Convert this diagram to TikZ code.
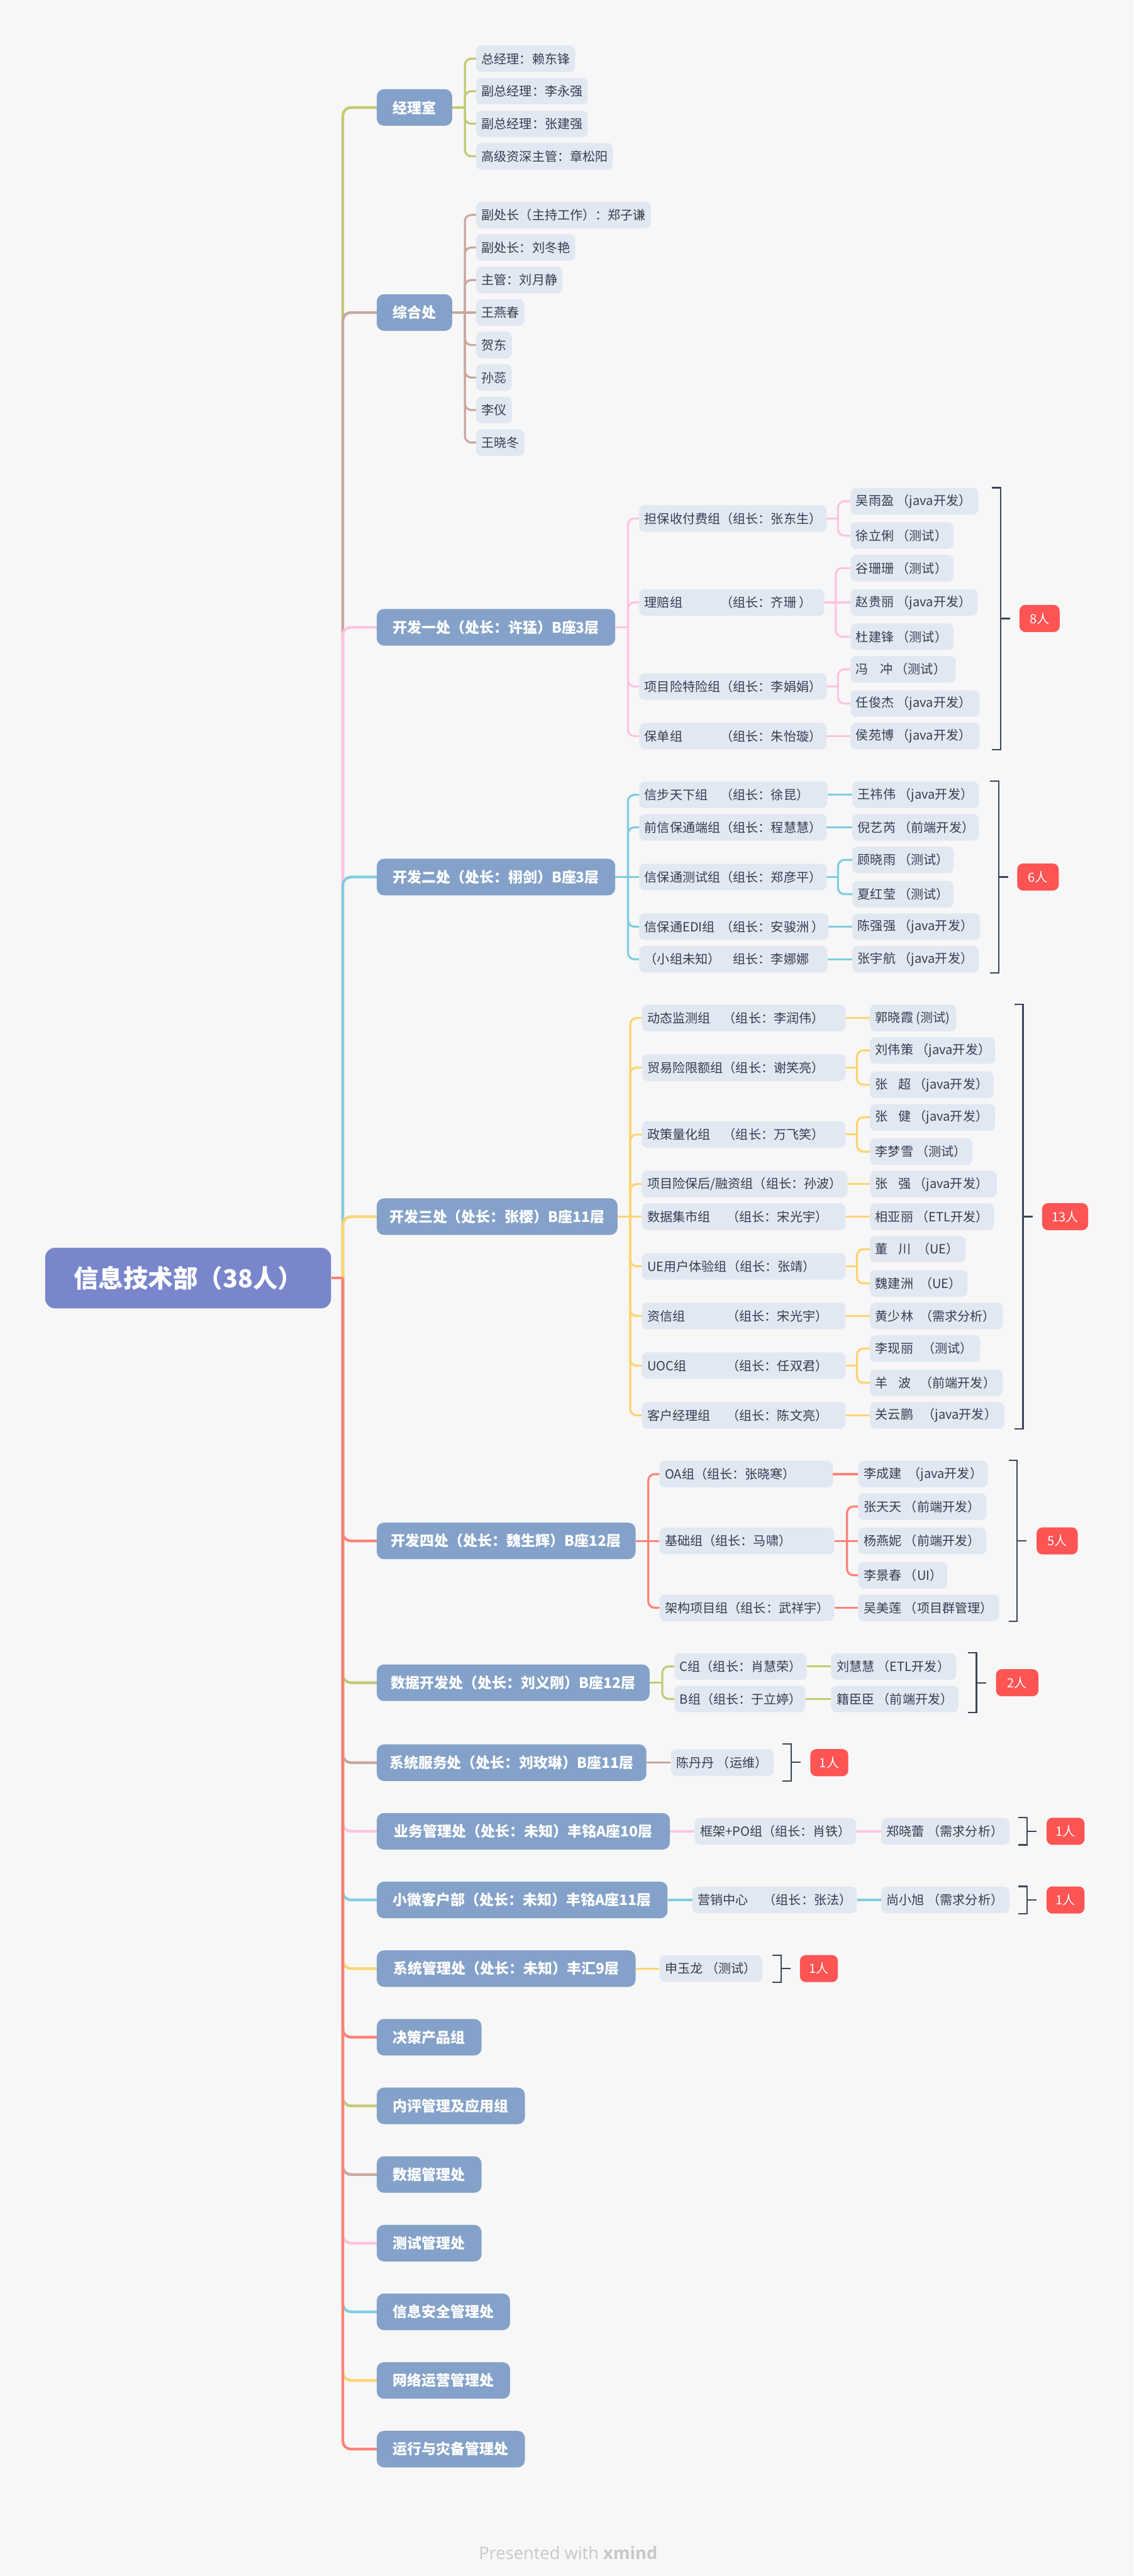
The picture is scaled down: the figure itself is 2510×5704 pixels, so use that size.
\documentclass[tikz,border=0pt]{standalone}
\usepackage{fontspec}
\setmainfont{Noto Sans CJK SC}
\newfontfamily\wmfont{Open Sans}
\definecolor{bgc}{HTML}{F7F7F7}
\definecolor{rootc}{HTML}{7986CB}
\definecolor{mainc}{HTML}{84A2C9}
\definecolor{subc}{HTML}{E2E8F1}
\definecolor{txtc}{HTML}{343E52}
\definecolor{redc}{HTML}{FF5454}
\definecolor{brkc}{HTML}{3B4559}
\definecolor{colA}{HTML}{C3CA74}
\definecolor{colB}{HTML}{C9A79F}
\definecolor{colC}{HTML}{FFC3E1}
\definecolor{colD}{HTML}{7FCDE0}
\definecolor{colE}{HTML}{FFD470}
\definecolor{colF}{HTML}{FF8277}
\definecolor{wmc}{HTML}{C8C8C8}
\newcommand\wbox[2]{\makebox[#1pt][l]{#2}}
\newcommand\pre[2]{\makebox[#1pt][l]{#2}}
\newcommand\stub[3]{\draw[sublink,#1] (#2.east) -- ++(#3,0);}
\newcommand\bend[4]{\draw[sublink,#1,rounded corners=14] (#2.east) ++(#3,0) |- (#4.west);}
\newcommand\strl[3]{\draw[sublink,#1] (#2.east) -- (#3.west);}
\newcommand\brk[4]{\draw[brk] ({#1-19},#2) -- (#1,#2) -- (#1,#3) -- ({#1-19},#3);
  \draw[brk] (#1,#4) -- ({#1+21},#4);}
\tikzset{
  rootbox/.style={fill=rootc, rounded corners=22, text=white, font=\bfseries\fontsize{55}{64}\selectfont, minimum width=633, minimum height=134, inner sep=0},
  mainbox/.style={fill=mainc, rounded corners=16, text=white, font=\bfseries\fontsize{32}{38}\selectfont, minimum height=81, inner sep=0, anchor=west},
  subbox/.style={fill=subc, rounded corners=12, text=txtc, font=\fontsize{28}{34}\selectfont, minimum height=59, inner xsep=12, inner ysep=0, anchor=west},
  badge/.style={fill=redc, rounded corners=13, text=white, font=\fontsize{28}{34}\selectfont, minimum height=60, inner sep=0, anchor=west},
  trunk/.style={line width=6},
  sublink/.style={line width=4.5},
  brk/.style={draw=brkc, line width=3},
}
\begin{document}
\begin{tikzpicture}[x=1pt,y=-1pt]
\useasboundingbox (0,0) rectangle (2510,5704);
\fill[bgc] (0,0) rectangle (2510,5704);

% root
\node[rootbox] (root) at (416.5,2830) {信息技术部（38人）};
\coordinate (T) at (759,2830);

% main topics
\node[mainbox, minimum width=167] (m1) at (834,238) {经理室};
\node[mainbox, minimum width=167] (m2) at (834,692) {综合处};
\node[mainbox, minimum width=528] (m3) at (834,1389) {开发一处（处长：许猛）B座3层};
\node[mainbox, minimum width=528] (m4) at (834,1942) {开发二处（处长：栩剑）B座3层};
\node[mainbox, minimum width=533] (m5) at (834,2694) {开发三处（处长：张樱）B座11层};
\node[mainbox, minimum width=573] (m6) at (834,3412) {开发四处（处长：魏生辉）B座12层};
\node[mainbox, minimum width=604] (m7) at (834,3726) {数据开发处（处长：刘义刚）B座12层};
\node[mainbox, minimum width=597] (m8) at (834,3903) {系统服务处（处长：刘玫琳）B座11层};
\node[mainbox, minimum width=649] (m9) at (834,4055) {业务管理处（处长：未知）丰铭A座10层};
\node[mainbox, minimum width=644] (m10) at (834,4207) {小微客户部（处长：未知）丰铭A座11层};
\node[mainbox, minimum width=573] (m11) at (834,4359) {系统管理处（处长：未知）丰汇9层};
\node[mainbox, minimum width=232] (m12) at (834,4511) {决策产品组};
\node[mainbox, minimum width=328] (m13) at (834,4663) {内评管理及应用组};
\node[mainbox, minimum width=232] (m14) at (834,4815) {数据管理处};
\node[mainbox, minimum width=232] (m15) at (834,4967) {测试管理处};
\node[mainbox, minimum width=295] (m16) at (834,5119) {信息安全管理处};
\node[mainbox, minimum width=295] (m17) at (834,5271) {网络运营管理处};
\node[mainbox, minimum width=328] (m18) at (834,5423) {运行与灾备管理处};

% root branches
\foreach \m/\c in {m1/colA,m2/colB,m3/colC,m4/colD,m5/colE,m6/colF,m7/colA,m8/colB,m9/colC,m10/colD,m11/colE,m12/colF,m13/colA,m14/colB,m15/colC,m16/colD,m17/colE,m18/colF}{
  \draw[trunk,\c] (root.east) -- (T);
  \draw[trunk,\c,rounded corners=18] (T) |- (\m.west);
}

% ---- branch 1
\node[subbox] (a1) at (1054,130) {\wbox{195}{总经理：赖东锋}};
\node[subbox] (a2) at (1054,202) {\wbox{223}{副总经理：李永强}};
\node[subbox] (a3) at (1054,274) {\wbox{223}{副总经理：张建强}};
\node[subbox] (a4) at (1054,346) {\wbox{279}{高级资深主管：章松阳}};
\stub{colA}{m1}{28}
\foreach \ch in {a1,a2,a3,a4}{\bend{colA}{m1}{28}{\ch}}

% ---- branch 2
\node[subbox] (b1) at (1054,476) {\wbox{363}{副处长（主持工作）：郑子谦}};
\node[subbox] (b2) at (1054,548) {\wbox{195}{副处长：刘冬艳}};
\node[subbox] (b3) at (1054,620) {\wbox{167}{主管：刘月静}};
\node[subbox] (b4) at (1054,692) {\wbox{83}{王燕春}};
\node[subbox] (b5) at (1054,764) {\wbox{55}{贺东}};
\node[subbox] (b6) at (1054,836) {\wbox{55}{孙蕊}};
\node[subbox] (b7) at (1054,908) {\wbox{55}{李仪}};
\node[subbox] (b8) at (1054,980) {\wbox{83}{王晓冬}};
\stub{colB}{m2}{28}
\foreach \ch in {b1,b2,b3,b5,b6,b7,b8}{\bend{colB}{m2}{28}{\ch}}
\strl{colB}{m2}{b4}

% ---- branch 3
\node[subbox] (g31) at (1415,1148) {\wbox{391}{担保收付费组（组长：张东生）}};
\node[subbox] (g32) at (1415,1334) {\wbox{386}{\pre{168}{理赔组}（组长：齐珊 ）}};
\node[subbox] (g33) at (1415,1520) {\wbox{391}{项目险特险组（组长：李娟娟）}};
\node[subbox] (g34) at (1415,1630) {\wbox{391}{\pre{168}{保单组}（组长：朱怡璇）}};
\node[subbox] (p311) at (1883,1110) {\wbox{259}{吴雨盈 （java开发）}};
\node[subbox] (p312) at (1883,1186) {\wbox{204}{徐立俐 （测试）}};
\node[subbox] (p321) at (1883,1258) {\wbox{204}{谷珊珊 （测试）}};
\node[subbox] (p322) at (1883,1334) {\wbox{257}{赵贵丽 （java开发）}};
\node[subbox] (p323) at (1883,1410) {\wbox{204}{杜建锋 （测试）}};
\node[subbox] (p331) at (1883,1482) {\wbox{209}{冯\hspace{0.9em}冲 （测试）}};
\node[subbox] (p332) at (1883,1558) {\wbox{262}{任俊杰 （java开发）}};
\node[subbox] (p341) at (1883,1630) {\wbox{262}{侯苑博 （java开发）}};
\stub{colC}{m3}{28}
\foreach \ch in {g31,g32,g33,g34}{\bend{colC}{m3}{28}{\ch}}
\stub{colC}{g31}{25}
\bend{colC}{g31}{25}{p311}\bend{colC}{g31}{25}{p312}
\stub{colC}{g32}{25}
\bend{colC}{g32}{25}{p321}\strl{colC}{g32}{p322}\bend{colC}{g32}{25}{p323}
\stub{colC}{g33}{25}
\bend{colC}{g33}{25}{p331}\bend{colC}{g33}{25}{p332}
\strl{colC}{g34}{p341}
\brk{2215}{1080}{1659.5}{1369.5}
\node[badge, minimum width=89] (n3) at (2257,1369.5) {8人};

% ---- branch 4
\node[subbox] (g41) at (1415,1760) {\wbox{393}{\pre{168}{信步天下组}（组长：徐昆）}};
\node[subbox] (g42) at (1415,1832) {\wbox{391}{前信保通端组（组长：程慧慧）}};
\node[subbox] (g43) at (1415,1942) {\wbox{391}{信保通测试组（组长：郑彦平）}};
\node[subbox] (g44) at (1415,2052) {\wbox{395}{\pre{168}{信保通EDI组}（组长：安骏洲 ）}};
\node[subbox] (g45) at (1415,2124) {\wbox{393}{\pre{196}{（小组未知）}组长：李娜娜}};
\node[subbox] (p41) at (1887,1760) {\wbox{256}{王祎伟 （java开发）}};
\node[subbox] (p42) at (1887,1832) {\wbox{256}{倪艺芮 （前端开发）}};
\node[subbox] (p431) at (1887,1904) {\wbox{200}{顾晓雨 （测试）}};
\node[subbox] (p432) at (1887,1980) {\wbox{200}{夏红莹 （测试）}};
\node[subbox] (p44) at (1887,2052) {\wbox{259}{陈强强 （java开发）}};
\node[subbox] (p45) at (1887,2124) {\wbox{256}{张宇航 （java开发）}};
\stub{colD}{m4}{28}
\foreach \ch in {g41,g42,g44,g45}{\bend{colD}{m4}{28}{\ch}}
\strl{colD}{m4}{g43}
\strl{colD}{g41}{p41}
\strl{colD}{g42}{p42}
\stub{colD}{g43}{25}
\bend{colD}{g43}{25}{p431}\bend{colD}{g43}{25}{p432}
\strl{colD}{g44}{p44}
\strl{colD}{g45}{p45}
\brk{2211}{1730}{2154}{1942}
\node[badge, minimum width=92] (n4) at (2252,1942) {6人};

% ---- branch 5
\node[subbox] (g51) at (1421,2254) {\wbox{427}{\pre{168}{动态监测组}（组长：李润伟）}};
\node[subbox] (g52) at (1421,2364) {\wbox{427}{贸易险限额组（组长：谢笑亮）}};
\node[subbox] (g53) at (1421,2512) {\wbox{427}{\pre{168}{政策量化组}（组长：万飞笑）}};
\node[subbox] (g54) at (1421,2622) {\wbox{431}{项目险保后/融资组（组长：孙波）}};
\node[subbox] (g55) at (1421,2694) {\wbox{427}{\pre{176}{数据集市组}（组长：宋光宇）}};
\node[subbox] (g56) at (1421,2804) {\wbox{427}{UE用户体验组（组长：张靖）}};
\node[subbox] (g57) at (1421,2914) {\wbox{427}{\pre{176}{资信组}（组长：宋光宇）}};
\node[subbox] (g58) at (1421,3024) {\wbox{427}{\pre{176}{UOC组}（组长：任双君）}};
\node[subbox] (g59) at (1421,3134) {\wbox{427}{\pre{176}{客户经理组}（组长：陈文亮）}};
\node[subbox] (p51) at (1926,2254) {\wbox{167}{郭晓霞 (测试)}};
\node[subbox] (p521) at (1926,2326) {\wbox{253}{刘伟策 （java开发）}};
\node[subbox] (p522) at (1926,2402) {\wbox{250}{张\hspace{0.8em}超 （java开发）}};
\node[subbox] (p531) at (1926,2474) {\wbox{253}{张\hspace{0.8em}健 （java开发）}};
\node[subbox] (p532) at (1926,2550) {\wbox{203}{李梦雪 （测试）}};
\node[subbox] (p54) at (1926,2622) {\wbox{257}{张\hspace{0.8em}强 （java开发）}};
\node[subbox] (p55) at (1926,2694) {\wbox{251}{相亚丽 （ETL开发）}};
\node[subbox] (p561) at (1926,2766) {\wbox{188}{董\hspace{0.8em}川\hspace{14pt}（UE）}};
\node[subbox] (p562) at (1926,2842) {\wbox{192}{魏建洲\hspace{14pt}（UE）}};
\node[subbox] (p57) at (1926,2914) {\wbox{270}{黄少林\hspace{14pt}（需求分析）}};
\node[subbox] (p581) at (1926,2986) {\wbox{220}{李现丽\hspace{20pt}（测试）}};
\node[subbox] (p582) at (1926,3062) {\wbox{270}{羊\hspace{0.8em}波\hspace{20pt}（前端开发）}};
\node[subbox] (p59) at (1926,3134) {\wbox{274}{关云鹏\hspace{20pt}（java开发）}};
\stub{colE}{m5}{28}
\foreach \ch in {g51,g52,g53,g54,g56,g57,g58,g59}{\bend{colE}{m5}{28}{\ch}}
\strl{colE}{m5}{g55}
\strl{colE}{g51}{p51}
\stub{colE}{g52}{25}
\bend{colE}{g52}{25}{p521}\bend{colE}{g52}{25}{p522}
\stub{colE}{g53}{25}
\bend{colE}{g53}{25}{p531}\bend{colE}{g53}{25}{p532}
\strl{colE}{g54}{p54}
\strl{colE}{g55}{p55}
\stub{colE}{g56}{25}
\bend{colE}{g56}{25}{p561}\bend{colE}{g56}{25}{p562}
\strl{colE}{g57}{p57}
\stub{colE}{g58}{25}
\bend{colE}{g58}{25}{p581}\bend{colE}{g58}{25}{p582}
\strl{colE}{g59}{p59}
\brk{2265}{2224}{3164}{2694}
\node[badge, minimum width=102] (n5) at (2307,2694) {13人};

% ---- branch 6
\node[subbox] (g61) at (1460,3264) {\wbox{360}{OA组（组长：张晓寒）}};
\node[subbox] (g62) at (1460,3412) {\wbox{363}{基础组（组长：马啸）}};
\node[subbox] (g63) at (1460,3560) {\wbox{363}{架构项目组（组长：武祥宇）}};
\node[subbox] (p61) at (1900,3264) {\wbox{263}{李成建\hspace{14pt}（java开发）}};
\node[subbox] (p621) at (1900,3336) {\wbox{260}{张天天 （前端开发）}};
\node[subbox] (p622) at (1900,3412) {\wbox{260}{杨燕妮 （前端开发）}};
\node[subbox] (p623) at (1900,3488) {\wbox{173}{李景春 （UI）}};
\node[subbox] (p63) at (1900,3560) {\wbox{288}{吴美莲 （项目群管理）}};
\stub{colF}{m6}{28}
\bend{colF}{m6}{28}{g61}\strl{colF}{m6}{g62}\bend{colF}{m6}{28}{g63}
\strl{colF}{g61}{p61}
\stub{colF}{g62}{28}
\bend{colF}{g62}{28}{p621}\strl{colF}{g62}{p622}\bend{colF}{g62}{28}{p623}
\strl{colF}{g63}{p63}
\brk{2252}{3234}{3590}{3412}
\node[badge, minimum width=91] (n6) at (2295,3412) {5人};

% ---- branch 7
\node[subbox] (g71) at (1493,3690) {\wbox{269}{C组（组长：肖慧荣）}};
\node[subbox] (g72) at (1493,3762) {\wbox{266}{B组（组长：于立婷）}};
\node[subbox] (p71) at (1840,3690) {\wbox{253}{刘慧慧 （ETL开发）}};
\node[subbox] (p72) at (1840,3762) {\wbox{258}{籍臣臣 （前端开发）}};
\stub{colA}{m7}{28}
\bend{colA}{m7}{28}{g71}\bend{colA}{m7}{28}{g72}
\strl{colA}{g71}{p71}
\strl{colA}{g72}{p72}
\brk{2162}{3660}{3792}{3726}
\node[badge, minimum width=94] (n7) at (2205,3726) {2人};

% ---- branch 8
\node[subbox] (p8) at (1485,3903) {\wbox{204}{陈丹丹 （运维）}};
\strl{colB}{m8}{p8}
\brk{1752}{3861}{3944}{3902.5}
\node[badge, minimum width=84] (n8) at (1794,3903) {1人};

% ---- branch 9
\node[subbox] (g9) at (1538,4055) {\wbox{333}{框架+PO组（组长：肖铁）}};
\node[subbox] (p9) at (1951,4055) {\wbox{260}{郑晓蕾 （需求分析）}};
\strl{colC}{m9}{g9}
\strl{colC}{g9}{p9}
\brk{2274}{4025}{4085}{4055}
\node[badge, minimum width=84] (n9) at (2317,4055) {1人};

% ---- branch 10
\node[subbox] (g10) at (1533,4207) {\wbox{340}{\pre{145}{营销中心}（组长：张法）}};
\node[subbox] (p10) at (1951,4207) {\wbox{260}{尚小旭 （需求分析）}};
\strl{colD}{m10}{g10}
\strl{colD}{g10}{p10}
\brk{2274}{4177}{4237}{4207}
\node[badge, minimum width=84] (n10) at (2317,4207) {1人};

% ---- branch 11
\node[subbox] (p11) at (1460,4359) {\wbox{204}{申玉龙 （测试）}};
\strl{colE}{m11}{p11}
\brk{1729}{4329}{4389}{4359}
\node[badge, minimum width=84] (n11) at (1771,4359) {1人};

% watermark
\node[anchor=base, text=wmc, font=\wmfont\fontsize{38}{44}\selectfont, inner sep=0] (wm) at (1258,5667) {Presented with \textbf{xmind}};
\end{tikzpicture}
\end{document}
